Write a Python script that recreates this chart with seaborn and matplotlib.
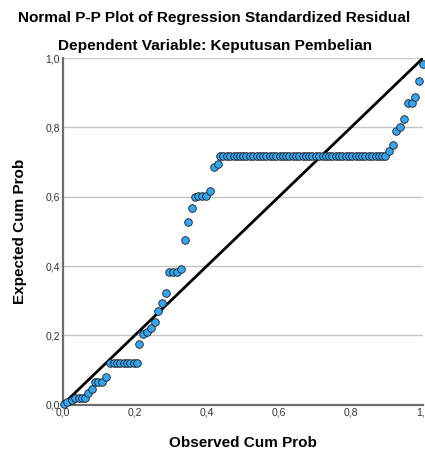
import matplotlib
matplotlib.use("Agg")
import matplotlib.pyplot as plt
import seaborn as sns
import pandas as pd

TITLE = "Normal P-P Plot of Regression Standardized Residual"
SUBTITLE = "Dependent Variable: Keputusan Pembelian"
XLABEL = "Observed Cum Prob"
YLABEL = "Expected Cum Prob"
TICKS = [0.0, 0.2, 0.4, 0.6, 0.8, 1.0]
TICK_LABELS = ["0,0", "0,2", "0,4", "0,6", "0,8", "1,0"]

# observed vs expected cumulative probability
observed_cum_prob = [
    0.004, 0.013, 0.025, 0.034, 0.045, 0.053, 0.062, 0.071, 0.080, 0.090,
    0.099, 0.108, 0.120, 0.131, 0.141, 0.150, 0.160, 0.169, 0.178, 0.188,
    0.197, 0.206, 0.213, 0.224, 0.233, 0.244, 0.255, 0.264, 0.275, 0.286,
    0.296, 0.306, 0.317, 0.328, 0.338, 0.349, 0.358, 0.367, 0.376, 0.386,
    0.398, 0.409, 0.419, 0.430,
    0.437, 0.446, 0.455, 0.464, 0.474, 0.483, 0.492, 0.501, 0.510, 0.519,
    0.529, 0.538, 0.547, 0.556, 0.565, 0.574, 0.584, 0.593, 0.602, 0.611,
    0.620, 0.629, 0.639, 0.648, 0.657, 0.666, 0.675, 0.684, 0.693, 0.703,
    0.712, 0.721, 0.730, 0.739, 0.748, 0.758, 0.767, 0.776, 0.785, 0.794,
    0.803, 0.813, 0.822, 0.831, 0.840, 0.849, 0.858, 0.868, 0.877, 0.886,
    0.895,
    0.906, 0.916, 0.926, 0.935, 0.946, 0.957, 0.968, 0.977, 0.990, 1.000,
]
expected_cum_prob = [
    0.002, 0.009, 0.014, 0.018, 0.020, 0.020, 0.020, 0.035, 0.046, 0.066,
    0.066, 0.066, 0.079, 0.119, 0.121, 0.121, 0.121, 0.121, 0.121, 0.121,
    0.121, 0.121, 0.175, 0.204, 0.210, 0.222, 0.239, 0.270, 0.294, 0.321,
    0.382, 0.382, 0.382, 0.390, 0.475, 0.528, 0.566, 0.600, 0.602, 0.602,
    0.602, 0.616, 0.686, 0.694,
    0.718, 0.718, 0.718, 0.718, 0.718, 0.718, 0.718, 0.718, 0.718, 0.718,
    0.718, 0.718, 0.718, 0.718, 0.718, 0.718, 0.718, 0.718, 0.718, 0.718,
    0.718, 0.718, 0.718, 0.718, 0.718, 0.718, 0.718, 0.718, 0.718, 0.718,
    0.718, 0.718, 0.718, 0.718, 0.718, 0.718, 0.718, 0.718, 0.718, 0.718,
    0.718, 0.718, 0.718, 0.718, 0.718, 0.718, 0.718, 0.718, 0.718, 0.718,
    0.718,
    0.731, 0.748, 0.789, 0.801, 0.823, 0.869, 0.869, 0.888, 0.934, 0.984,
]
diag_x = [0.0, 1.0]
diag_y = [0.0, 1.0]

df = pd.DataFrame({"obs": observed_cum_prob, "exp": expected_cum_prob})

sns.set_style("white")
plt.rcParams["font.family"] = ["Liberation Sans", "DejaVu Sans"]
plt.rcParams["text.color"] = "black"
plt.rcParams["axes.labelcolor"] = "black"

fig = plt.figure(figsize=(4.25, 4.5), dpi=100)
ax = fig.add_axes([0.1475, 0.1007, 0.848, 0.7704])

ax.set_xlim(0, 1)
ax.set_ylim(0, 1)
ax.set_yticks(TICKS)
ax.set_xticks(TICKS)
ax.set_yticklabels(TICK_LABELS)
ax.set_xticklabels(TICK_LABELS)
ax.yaxis.grid(True, color="#c4c4c4", lw=1.0)
ax.xaxis.grid(False)
ax.set_axisbelow(True)

sns.lineplot(x=diag_x, y=diag_y, ax=ax, color="black", lw=2.0, zorder=2)
sns.scatterplot(data=df, x="obs", y="exp", ax=ax, s=30, color="#34a6f0",
                edgecolor="#1a1a1a", linewidth=0.6, zorder=3, clip_on=False)

for side in ["top", "right"]:
    ax.spines[side].set_visible(False)
for side in ["left", "bottom"]:
    ax.spines[side].set_color("#6e6e6e")
    ax.spines[side].set_linewidth(1.6)

ax.tick_params(axis="both", length=0, labelsize=7.5, colors="#333333", pad=2)
ax.set_xlabel(XLABEL, fontsize=11, fontweight="bold", labelpad=13)
ax.set_ylabel(YLABEL, fontsize=11, fontweight="bold", labelpad=13)

fig.text(0.505, 0.959, TITLE, ha="center", va="center", fontsize=11.1, fontweight="bold")
fig.text(0.505, 0.897, SUBTITLE, ha="center", va="center", fontsize=11.1, fontweight="bold")

fig.savefig("out.png", dpi=100)
